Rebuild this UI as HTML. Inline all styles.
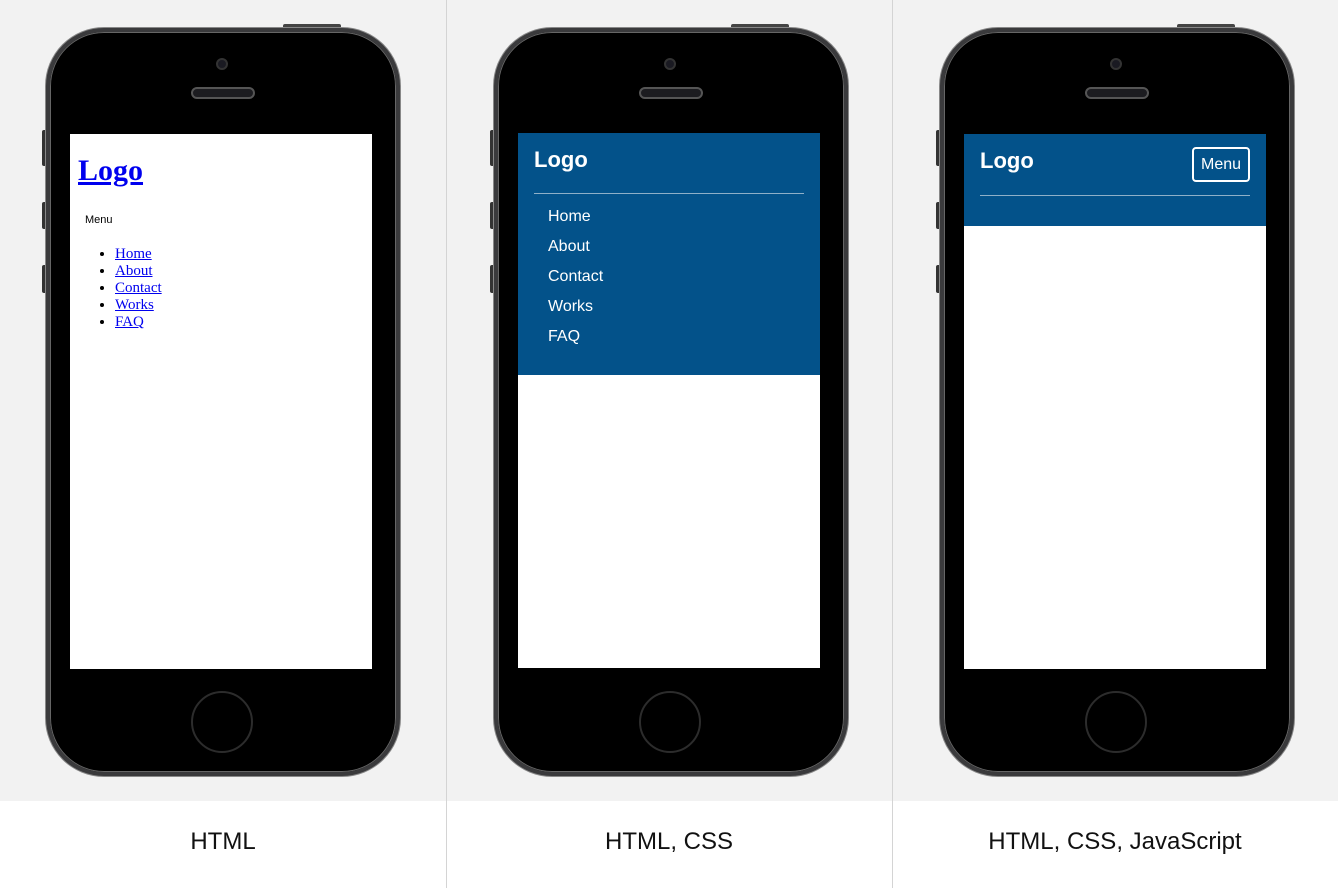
<!DOCTYPE html>
<html><head><style>
*{margin:0;padding:0;box-sizing:border-box}
body{width:1338px;height:888px;background:#fff;position:relative;overflow:hidden;font-family:"Liberation Sans",sans-serif}
.bg{position:absolute;left:0;top:0;width:1338px;height:801px;background:#f2f2f2}
.div{position:absolute;top:0;width:1px;height:888px;background:#d4d4d4}
.lbl{position:absolute;top:828px;width:446px;text-align:center;font-size:24px;color:#111}
.phone{position:absolute;top:28px;width:354px;height:748px}
.body{position:absolute;left:0;top:0;width:354px;height:748px;border-radius:58px;background:#000;border:4px solid #3a3a3c;box-shadow:0 0 0 1px #888,inset 0 0 0 1px #666}
.topbtn{position:absolute;left:237px;top:-4px;width:58px;height:6px;background:#444;border-radius:2px}
.sb{position:absolute;left:-4px;width:5px;background:#333;border-radius:2px}
.cam{position:absolute;left:170px;top:30px;width:12px;height:12px;border-radius:50%;background:#1a1a22;border:2px solid #333}
.spk{position:absolute;left:145px;top:59px;width:64px;height:12px;border-radius:6px;background:#1c1c20;border:2px solid #555}
.home{position:absolute;left:145px;top:663px;width:62px;height:62px;border-radius:50%;border:2px solid #2c2c2c}
.scr{position:absolute;left:24px;top:106px;width:302px;height:535px;background:#fff;overflow:hidden}
.blue{background:#03528a;position:absolute;left:0;top:0;width:302px}
.w{color:#fff;position:absolute}
li{color:#000}
</style></head><body>
<div class="bg"></div>
<div class="div" style="left:446px"></div>
<div class="div" style="left:892px"></div>
<div class="lbl" style="left:0">HTML</div>
<div class="lbl" style="left:446px">HTML, CSS</div>
<div class="lbl" style="left:892px">HTML, CSS, JavaScript</div>

<!-- phone 1 -->
<div class="phone" style="left:46px">
<div class="topbtn"></div><div class="sb" style="top:102px;height:36px"></div><div class="sb" style="top:174px;height:27px"></div><div class="sb" style="top:237px;height:28px"></div>
<div class="body"></div><div class="cam"></div><div class="spk"></div><div class="home"></div>
<div class="scr">
<div style="position:absolute;left:8px;top:20px;font:bold 30px 'Liberation Serif',serif;color:#00e;text-decoration:underline">Logo</div>
<div style="position:absolute;left:15px;top:80px;font-size:11px;color:#000">Menu</div>
<ul style="position:absolute;left:45px;top:112px;font:15px/17px 'Liberation Serif',serif;color:#00e">
<li><u style="color:#00e">Home</u></li><li><u style="color:#00e">About</u></li><li><u style="color:#00e">Contact</u></li><li><u style="color:#00e">Works</u></li><li><u style="color:#00e">FAQ</u></li></ul>
</div></div>

<!-- phone 2 -->
<div class="phone" style="left:494px">
<div class="topbtn"></div><div class="sb" style="top:102px;height:36px"></div><div class="sb" style="top:174px;height:27px"></div><div class="sb" style="top:237px;height:28px"></div>
<div class="body"></div><div class="cam"></div><div class="spk"></div><div class="home"></div>
<div class="scr" style="top:105px">
<div class="blue" style="height:242px">
<div class="w" style="left:16px;top:14px;font-weight:bold;font-size:22px">Logo</div>
<div style="position:absolute;left:16px;top:60px;width:270px;height:1px;background:#8fb0c8"></div>
<div class="w" style="left:30px;top:69px;font-size:16px;line-height:30px">Home<br>About<br>Contact<br>Works<br>FAQ</div>
</div></div></div>

<!-- phone 3 -->
<div class="phone" style="left:940px">
<div class="topbtn"></div><div class="sb" style="top:102px;height:36px"></div><div class="sb" style="top:174px;height:27px"></div><div class="sb" style="top:237px;height:28px"></div>
<div class="body"></div><div class="cam"></div><div class="spk"></div><div class="home"></div>
<div class="scr">
<div class="blue" style="height:92px">
<div class="w" style="left:16px;top:14px;font-weight:bold;font-size:22px">Logo</div>
<div style="position:absolute;left:228px;top:13px;width:58px;height:35px;border:2px solid #fff;border-radius:4px;color:#fff;font-size:16px;text-align:center;line-height:31px">Menu</div>
<div style="position:absolute;left:16px;top:61px;width:270px;height:1px;background:#8fb0c8"></div>
</div></div></div>
</body></html>
